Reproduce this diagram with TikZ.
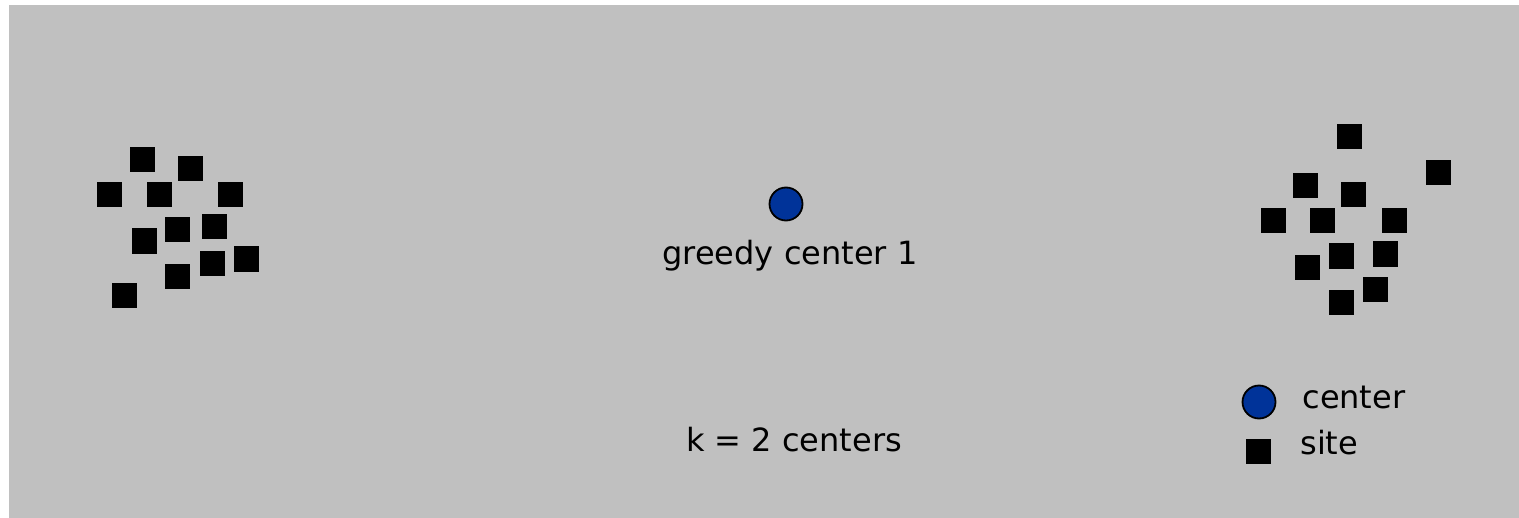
\documentclass[tikz,border=0pt]{standalone}
\usepackage{fontspec}
\setmainfont{DejaVu Sans}
\definecolor{bggray}{HTML}{C0C0C0}
\definecolor{ctrblue}{HTML}{003399}
\tikzset{
  sitebox/.style={fill=black, minimum size=12.5pt, inner sep=0pt},
  ctrdot/.style={circle, draw=black, line width=0.9pt, fill=ctrblue, minimum size=16.5pt, inner sep=0pt},
  lbl/.style={inner sep=0pt, font=\fontsize{16pt}{18pt}\selectfont}
}
\begin{document}
\begin{tikzpicture}[x=0.5pt, y=-0.5pt]
    % Rahmen und Hintergrund
    \useasboundingbox (0,0) rectangle (1519,518);
    \fill[bggray] (9,5) rectangle (1519,518);

    % linke Gruppe von Orten
    \foreach \x/\y [count=\i] in {142/160, 190/169, 109/195, 159/195, 230/195,
        144/241, 177/230, 214/227, 246/259, 212/263, 177/276, 124/295} {
      \node[sitebox] (left\i) at (\x,\y) {};
    }

    % rechte Gruppe von Orten
    \foreach \x/\y [count=\i] in {1349/137, 1438/173, 1305/186, 1353/195, 1273/221,
        1322/221, 1394/221, 1341/256, 1385/254, 1307/267, 1375/289, 1341/302} {
      \node[sitebox] (right\i) at (\x,\y) {};
    }

    % erstes Zentrum
    \node[ctrdot] (c1) at (786,204) {};
    \node[lbl, anchor=base] (c1label) at (790,264) {greedy center 1};

    \node[lbl, anchor=base] (k) at (794,451) {k = 2 centers};

    % Legende
    \node[ctrdot] (legc) at (1259,402) {};
    \node[lbl, anchor=base west] (legctext) at (1302,408) {center};
    \node[sitebox] (legs) at (1258,451) {};
    \node[lbl, anchor=base west] (legstext) at (1300,454) {site};
\end{tikzpicture}
\end{document}
